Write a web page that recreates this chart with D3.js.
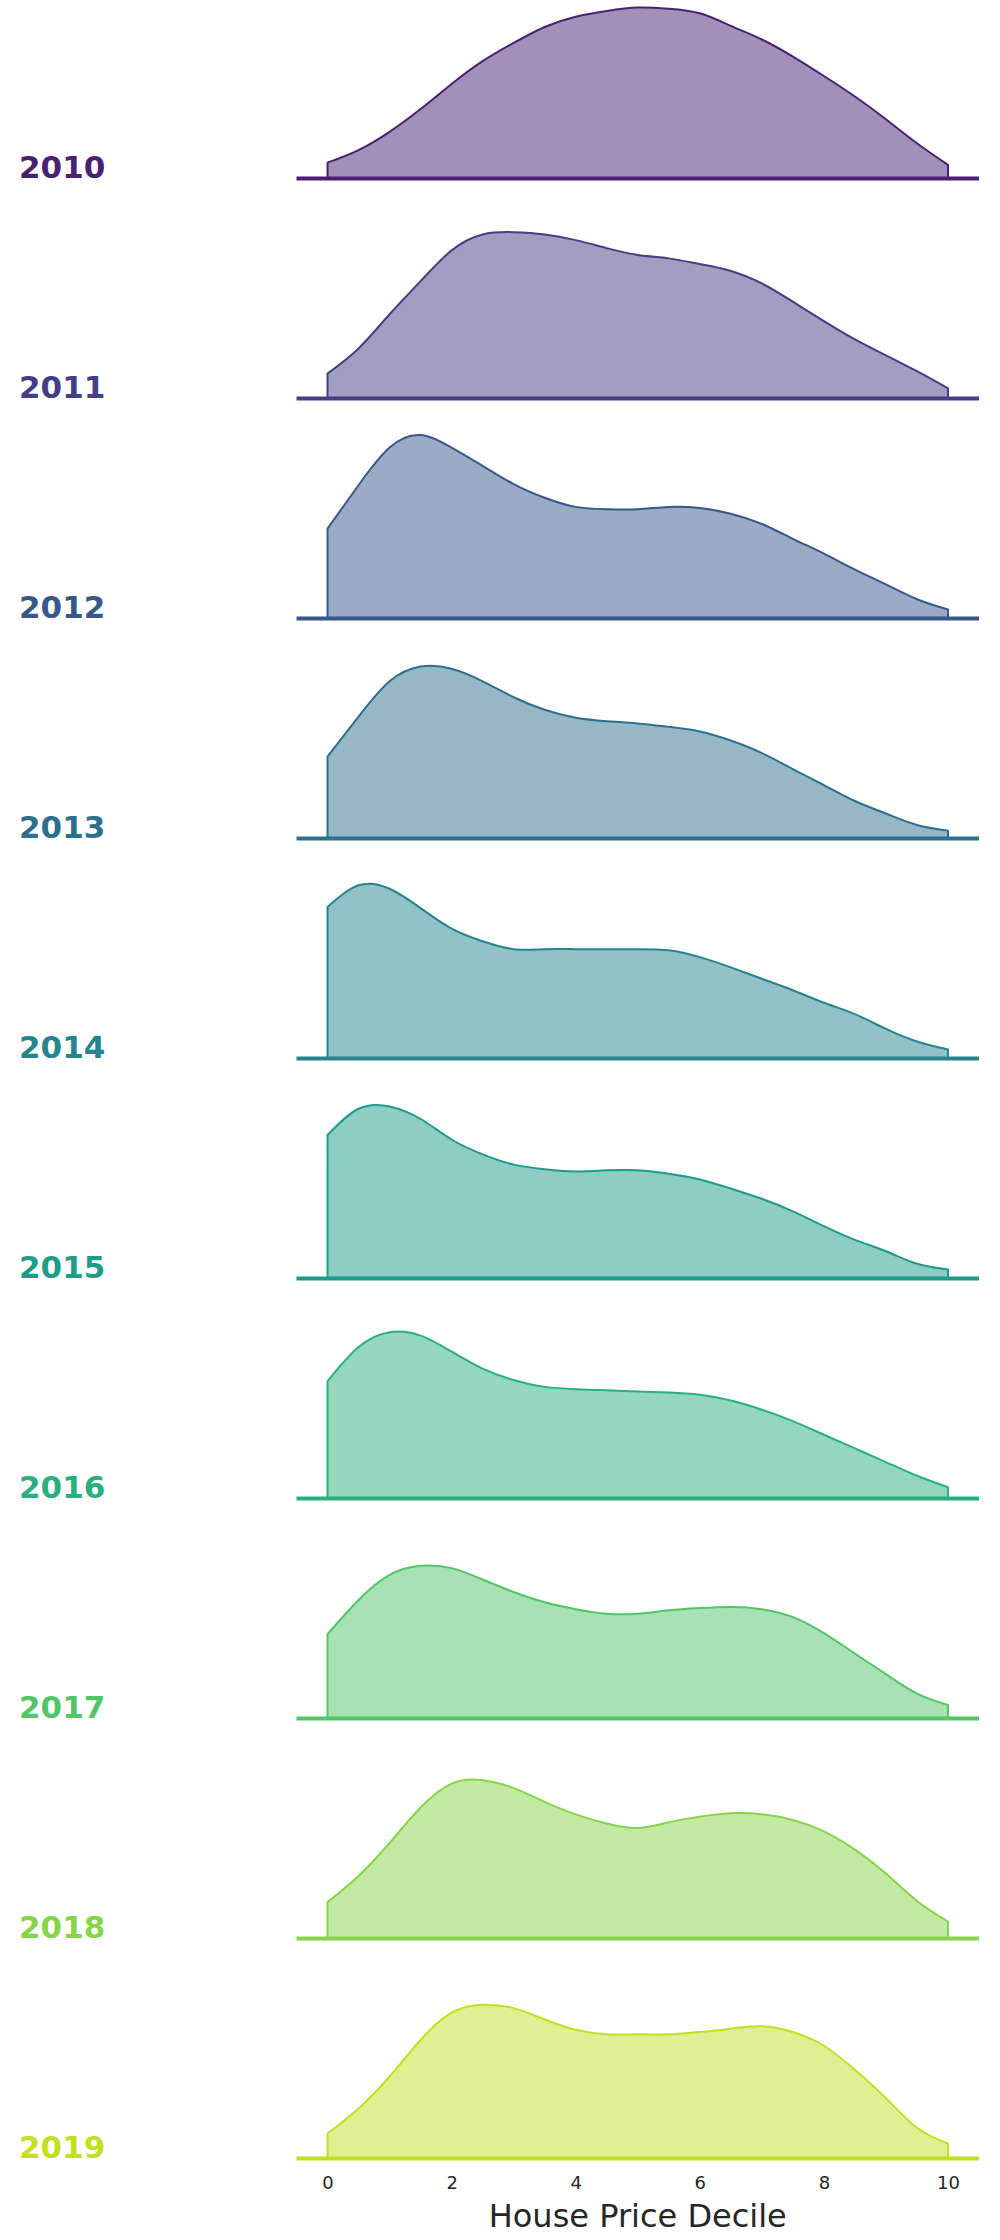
<!DOCTYPE html>
<html>
<head>
<meta charset="utf-8">
<script src="https://cdn.jsdelivr.net/npm/d3@7"></script>
<style>
  html, body { margin: 0; padding: 0; background: #fff; }
  svg { display: block; font-family: "DejaVu Sans", sans-serif; }
</style>
</head>
<body>
<div id="chart"></div>
<script>
// house price decile sample points, every 0.5 from 0 to 10
const deciles = [0, 0.5, 1, 1.5, 2, 2.5, 3, 3.5, 4, 4.5, 5, 5.5, 6, 6.5, 7, 7.5, 8, 8.5, 9, 9.5, 10];
const years = ['2010', '2011', '2012', '2013', '2014', '2015', '2016', '2017', '2018', '2019'];
const xTicks = [0, 2, 4, 6, 8, 10];

// kde density per year
const d2010 = [0.014, 0.025, 0.041, 0.061, 0.083, 0.103, 0.119, 0.133, 0.142, 0.147, 0.150, 0.149, 0.145, 0.134, 0.122, 0.107, 0.090, 0.072, 0.052, 0.031, 0.012];
const d2011 = [0.022, 0.044, 0.074, 0.103, 0.130, 0.144, 0.146, 0.144, 0.139, 0.132, 0.126, 0.123, 0.118, 0.112, 0.101, 0.085, 0.068, 0.052, 0.038, 0.024, 0.009];
const d2012 = [0.079, 0.117, 0.150, 0.161, 0.150, 0.134, 0.118, 0.106, 0.098, 0.096, 0.096, 0.098, 0.097, 0.092, 0.083, 0.070, 0.057, 0.043, 0.030, 0.017, 0.008];
const d2013 = [0.072, 0.107, 0.138, 0.151, 0.149, 0.138, 0.124, 0.113, 0.106, 0.103, 0.101, 0.098, 0.094, 0.086, 0.075, 0.061, 0.047, 0.033, 0.022, 0.012, 0.007];
const d2014 = [0.133, 0.152, 0.149, 0.132, 0.114, 0.103, 0.096, 0.096, 0.096, 0.096, 0.096, 0.095, 0.089, 0.080, 0.070, 0.060, 0.049, 0.039, 0.026, 0.015, 0.008];
const d2015 = [0.126, 0.149, 0.151, 0.140, 0.122, 0.109, 0.100, 0.096, 0.094, 0.095, 0.095, 0.092, 0.087, 0.079, 0.070, 0.059, 0.046, 0.034, 0.024, 0.013, 0.008];
const d2016 = [0.103, 0.133, 0.146, 0.143, 0.129, 0.114, 0.104, 0.098, 0.096, 0.095, 0.094, 0.093, 0.091, 0.086, 0.078, 0.068, 0.056, 0.044, 0.032, 0.020, 0.010];
const d2017 = [0.074, 0.104, 0.126, 0.134, 0.132, 0.122, 0.111, 0.102, 0.096, 0.092, 0.092, 0.095, 0.097, 0.098, 0.096, 0.089, 0.075, 0.057, 0.039, 0.022, 0.012];
const d2018 = [0.032, 0.055, 0.084, 0.115, 0.136, 0.139, 0.132, 0.120, 0.109, 0.101, 0.097, 0.102, 0.107, 0.110, 0.109, 0.104, 0.094, 0.078, 0.057, 0.033, 0.015];
const d2019 = [0.022, 0.044, 0.072, 0.104, 0.128, 0.135, 0.132, 0.122, 0.113, 0.109, 0.109, 0.109, 0.111, 0.114, 0.116, 0.111, 0.099, 0.078, 0.053, 0.027, 0.013];

const densities = [d2010, d2011, d2012, d2013, d2014, d2015, d2016, d2017, d2018, d2019];

(function() {
    const W = 1000, H = 2240;
    const svg = d3.select('#chart').append('svg').attr('width', W).attr('height', H);

    const x = d3.scaleLinear().domain([-0.5, 10.5]).range([296.5, 979]);
    const rowY = d3.scalePoint().domain(years).range([178.6, 2158.6]);
    const y = d3.scaleLinear().domain([0, 0.15]).range([0, -171]);
    const color = i => d3.interpolateViridis((i + 1) / (years.length + 1));

    const area = d3.area()
        .x(d => x(d[0])).y0(y(0)).y1(d => y(d[1]))
        .curve(d3.curveNatural);

    years.forEach((yr, i) => {
        const c = color(i);
        const pts = deciles.map((k, j) => [k, densities[i][j]]);
        const g = svg.append('g').attr('transform', `translate(0, ${rowY(yr)})`);

        g.append('path').datum(pts)
            .attr('d', area)
            .attr('fill', c).attr('fill-opacity', 0.5)
            .attr('stroke', c).attr('stroke-width', 2).attr('stroke-linejoin', 'round');

        g.append('line')
            .attr('x1', x(-0.5)).attr('x2', x(10.5))
            .attr('y1', 0).attr('y2', 0)
            .attr('stroke', c).attr('stroke-width', 4);

        g.append('text')
            .attr('x', 19).attr('y', -1)
            .style('font-size', '31px').style('font-weight', 'bold')
            .attr('fill', c).text(yr);
    });

    const axis = svg.append('g')
        .attr('transform', `translate(0, ${rowY('2019')})`)
        .call(d3.axisBottom(x).tickValues(xTicks).tickSize(0).tickPadding(17.5));
    axis.select('.domain').remove();
    axis.selectAll('text')
        .style('font-size', '18px').style('font-family', '"DejaVu Sans", sans-serif')
        .attr('fill', '#262626');

    svg.append('text')
        .attr('x', (x(-0.5) + x(10.5)) / 2).attr('y', 2227)
        .attr('text-anchor', 'middle')
        .style('font-size', '32px').attr('fill', '#262626')
        .text('House Price Decile');
})();
</script>
</body>
</html>
